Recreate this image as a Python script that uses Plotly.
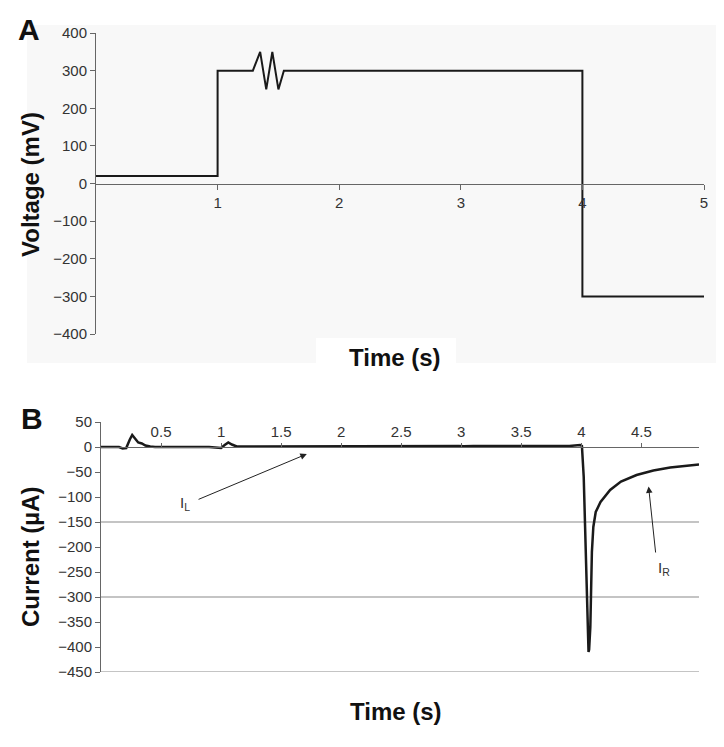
import plotly.graph_objects as go

W, H = 724, 747
OFF = 8  # page body margin offset compensation

# ---- Panel A data (step voltage protocol) ----
time_a = [0, 1, 1, 1.29, 1.35, 1.40, 1.45, 1.50, 1.545, 4, 4, 5]
voltage_a = [20, 20, 300, 300, 350, 250, 350, 250, 300, 300, -300, -300]
yticks_a = [400, 300, 200, 100, 0, -100, -200, -300, -400]
xticks_a = [1, 2, 3, 4, 5]

# ---- Panel B data (current response) ----
time_b = [0, 0.15, 0.18, 0.21, 0.24, 0.26, 0.28, 0.31, 0.34, 0.37, 0.41, 0.45,
          0.9, 0.97, 1.0, 1.03, 1.06, 1.09, 1.13, 1.2, 2.0, 2.85, 2.92, 2.95,
          2.98, 3.02, 3.1, 3.9, 3.97, 3.99, 4.005, 4.02, 4.06, 4.065, 4.075,
          4.08, 4.088, 4.1, 4.12, 4.16, 4.24, 4.33, 4.46, 4.6, 4.74, 4.98]
current_b = [0, 0, -3, -2, 15, 24, 18, 9, 7, 3, 1, 0,
             0, -1, -2, 4, 9, 5, 1, 1, 1.5, 1.5, 2, 3,
             2, 1.5, 2, 2, 3, 4, 2, -60, -410, -405, -360,
             -290, -210, -160, -130, -110, -86, -69, -56, -47, -41, -35]
yticks_b = [50, 0, -50, -100, -150, -200, -250, -300, -350, -400, -450]
xticks_b = [0.5, 1, 1.5, 2, 2.5, 3, 3.5, 4, 4.5]
xticktext_b = ["0.5", "1", "1.5", "2", "2.5", "3", "3.5", "4", "4.5"]
grid_b = [-150, -300, -450]


def px_x(p):
    return (p - OFF) / W


def px_y(p):
    return 1 - (p - OFF) / H


def fmt(v):
    return ("\u2212" + str(abs(v))) if v < 0 else str(v)


FONT = "Liberation Sans, Arial, Helvetica, sans-serif"
TICKFONT = dict(family=FONT, size=15, color="#333333")
AXCOL = "#666666"

# domains
ax_dom_x = [px_x(96), px_x(704)]
ax_dom_y = [px_y(334), px_y(33)]
bx_dom_x = [px_x(101), px_x(699)]
bx_dom_y = [px_y(672), px_y(422)]

yr_a = [-400, 400]
yr_b = [-450, 50]
pos_a = ax_dom_y[0] + (0 - yr_a[0]) / (yr_a[1] - yr_a[0]) * (ax_dom_y[1] - ax_dom_y[0])
pos_b = bx_dom_y[0] + (0 - yr_b[0]) / (yr_b[1] - yr_b[0]) * (bx_dom_y[1] - bx_dom_y[0])

fig = go.Figure()

fig.add_trace(go.Scatter(x=time_a, y=voltage_a, mode="lines",
                         line=dict(color="#1a1a1a", width=2),
                         xaxis="x", yaxis="y", showlegend=False, hoverinfo="skip"))
fig.add_trace(go.Scatter(x=time_b, y=current_b, mode="lines",
                         line=dict(color="#1a1a1a", width=2.5),
                         xaxis="x2", yaxis="y2", showlegend=False, hoverinfo="skip"))

shapes = [
    # faint background of panel A
    dict(type="rect", xref="paper", yref="paper", layer="below",
         x0=px_x(27), x1=px_x(720), y0=px_y(363), y1=px_y(25),
         fillcolor="#f8f8f8", line=dict(width=0)),
    dict(type="rect", xref="paper", yref="paper", layer="below",
         x0=px_x(316), x1=px_x(456), y0=px_y(363), y1=px_y(338),
         fillcolor="#ffffff", line=dict(width=0)),
]
for g in grid_b:
    shapes.append(dict(type="line", xref="x2 domain", yref="y2", layer="below",
                       x0=0, x1=1, y0=g, y1=g,
                       line=dict(color="#8a8a8a", width=1.2)))


def label(text, x, y, size, angle=0):
    return dict(text=text, x=px_x(x), y=px_y(y), xref="paper", yref="paper",
                xanchor="center", yanchor="middle", textangle=angle,
                showarrow=False, font=dict(family=FONT, size=size, color="#111"))


annotations = [
    label("<b>A</b>", 29, 29, 30),
    label("<b>B</b>", 32, 418, 30),
    label("<b>Voltage (mV)</b>", 30, 185, 24, -90),
    label("<b>Current (\u00b5A)</b>", 30, 557, 24, -90),
    label("<b>Time (s)</b>", 395, 357, 24),
    label("<b>Time (s)</b>", 396, 711, 24),
    # I_L arrow
    dict(x=1.714, y=-14, xref="x2", yref="y2", ax=0.80, ay=-106, axref="x2", ayref="y2",
         text="", showarrow=True, arrowhead=2, arrowsize=1.3, arrowwidth=1,
         arrowcolor="#222"),
    dict(text="I<sub>L</sub>", x=0.70, y=-113, xref="x2", yref="y2", showarrow=False,
         xanchor="center", yanchor="middle",
         font=dict(family=FONT, size=15, color="#333")),
    # I_R arrow
    dict(x=4.56, y=-79, xref="x2", yref="y2", ax=4.62, ay=-214, axref="x2", ayref="y2",
         text="", showarrow=True, arrowhead=2, arrowsize=1.3, arrowwidth=1,
         arrowcolor="#222"),
    dict(text="I<sub>R</sub>", x=4.685, y=-243, xref="x2", yref="y2", showarrow=False,
         xanchor="center", yanchor="middle",
         font=dict(family=FONT, size=15, color="#333")),
]

common = dict(showgrid=False, zeroline=False, showline=True, linecolor=AXCOL, linewidth=1,
              ticks="outside", tickcolor=AXCOL, tickwidth=1, tickfont=TICKFONT,
              fixedrange=True, automargin=False)

fig.update_layout(
    template="none",
    width=W, height=H,
    margin=dict(l=0, r=0, t=0, b=0, pad=0, autoexpand=False),
    paper_bgcolor="white", plot_bgcolor="rgba(0,0,0,0)",
    showlegend=False,
    shapes=shapes,
    annotations=annotations,
    xaxis=dict(domain=ax_dom_x, range=[0, 5], anchor="free", position=pos_a,
               ticklen=5, tickvals=xticks_a, ticktext=[str(v) for v in xticks_a], **common),
    yaxis=dict(domain=ax_dom_y, range=yr_a, anchor="x", ticklen=5,
               tickvals=yticks_a, ticktext=[fmt(v) for v in yticks_a], **common),
    xaxis2=dict(domain=bx_dom_x, range=[0, 4.98], anchor="free", position=pos_b, side="top",
                ticklen=4, tickvals=xticks_b, ticktext=xticktext_b, **common),
    yaxis2=dict(domain=bx_dom_y, range=yr_b, anchor="x2", ticklen=5,
                tickvals=yticks_b, ticktext=[fmt(v) for v in yticks_b], **common),
)

fig.write_html("out.html")
